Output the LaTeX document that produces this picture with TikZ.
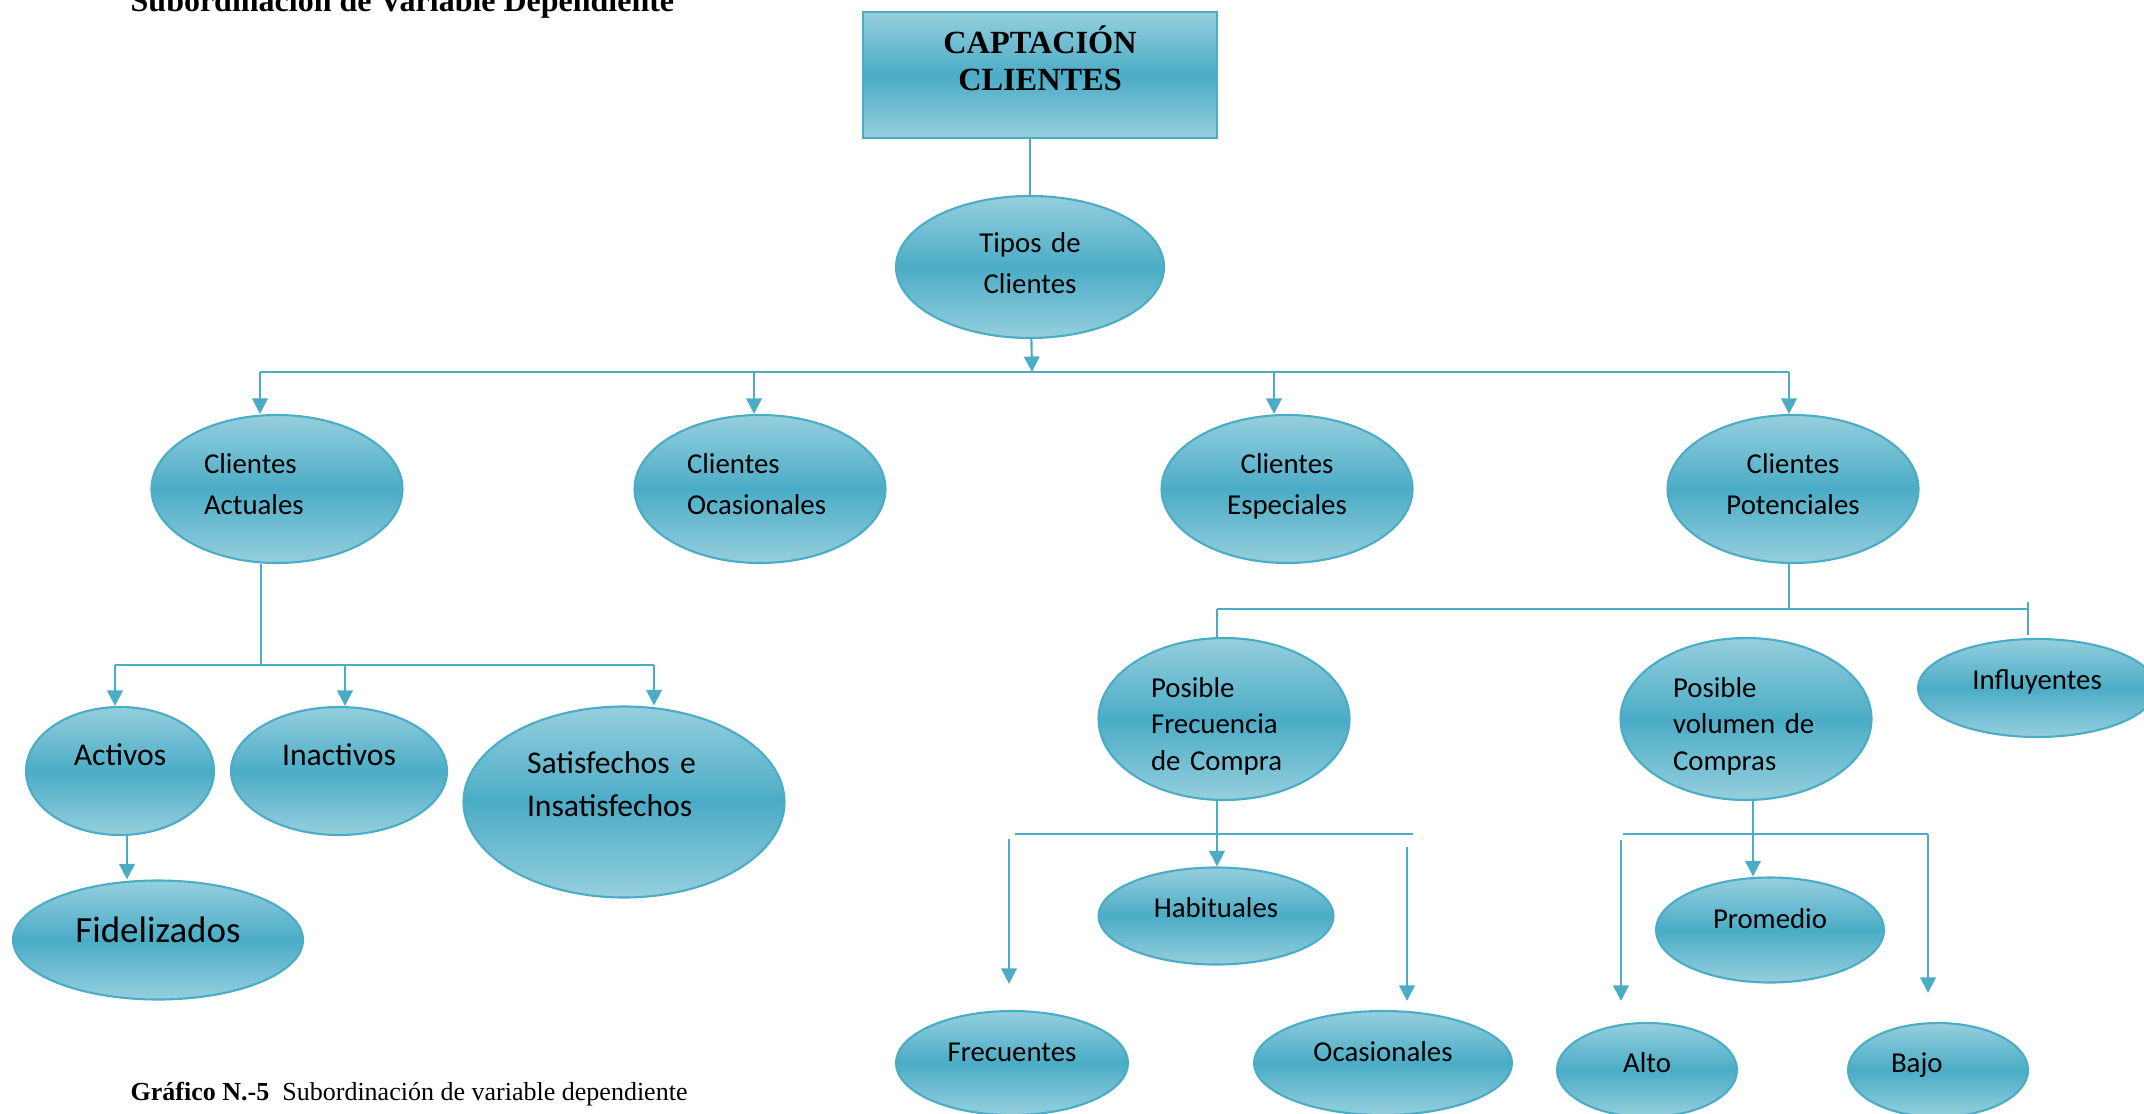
\documentclass[tikz,border=0pt]{standalone}
\usepackage{fontspec}
\setmainfont{Carlito}
\newfontfamily\timesf{Liberation Serif}
\usetikzlibrary{shapes.geometric,arrows.meta}
\definecolor{celeste}{HTML}{4BACC6}
\definecolor{celesteclaro}{HTML}{95CFDE}

\begin{document}
\begin{tikzpicture}[x=0.1mm,y=-0.1mm,
    every node/.style={font=\fontsize{8.2}{11.7}\selectfont},
    relleno/.style={draw=celeste, line width=0.6pt, top color=celesteclaro, bottom color=celesteclaro, middle color=celeste},
    elipse/.style={relleno, ellipse, inner sep=0pt},
    txt/.style={text height=6.5pt, text depth=#1},
    nivel/.style={elipse, minimum width=25.1mm, minimum height=14.8mm, text width=14.6mm, txt=15.6pt},
    posible/.style={elipse, minimum width=25.1mm, minimum height=16.2mm, text width=14.6mm, align=left, txt=19pt, font=\fontsize{8.2}{10.5}\selectfont},
    linea/.style={draw=celeste, line width=0.6pt},
    flecha/.style={linea, -{Triangle[width=4.4pt,length=4.4pt]}}]
                \useasboundingbox (0,0) rectangle (2144,1114);
                % titulos
                \node[anchor=base west, inner sep=0pt, font=\timesf\bfseries\fontsize{9.1}{11}\selectfont] (titulo) at (130,12) {Subordinación de Variable Dependiente};
                \node[anchor=base west, inner sep=0pt, font=\timesf\fontsize{7.4}{9}\selectfont] (pie) at (130,1100) {\textbf{Gráfico N.-5}\ \ Subordinación de variable dependiente};
                % raiz
                \node[relleno, rectangle, inner sep=0pt, minimum width=35.4mm, minimum height=12.6mm, text width=30mm, align=center, text height=6.5pt, text depth=18.9pt, font=\timesf\bfseries\fontsize{9.2}{10.6}\selectfont] (cap) at (1040,75) {CAPTACIÓN\\CLIENTES};
                \node[elipse, minimum width=26.8mm, minimum height=14.2mm, text width=18mm, align=center, txt=14.5pt, font=\fontsize{8.2}{11.4}\selectfont] (tipos) at (1030,267) {Tipos de\\Clientes};
                % tipos de clientes
                \node[nivel, align=left] (actuales) at (277,489) {Clientes\\Actuales};
                \node[nivel, align=left] (ocasion) at (760,489) {Clientes\\Ocasionales};
                \node[nivel, align=center] (especiales) at (1287,489) {Clientes\\Especiales};
                \node[nivel, align=center] (potenciales) at (1793,489) {Clientes\\Potenciales};
                % clientes actuales
                \node[elipse, minimum width=18.8mm, minimum height=12.8mm, txt=9.9pt, font=\fontsize{9}{11}\selectfont] (activos) at (120,771) {Activos};
                \node[elipse, minimum width=21.6mm, minimum height=12.8mm, txt=9.9pt, font=\fontsize{9}{11}\selectfont] (inactivos) at (339,771) {Inactivos};
                \node[elipse, minimum width=32.1mm, minimum height=19.1mm, text width=19.4mm, align=left, txt=23pt, font=\fontsize{9}{12.5}\selectfont] (satisf) at (624,802) {Satisfechos e\\Insatisfechos};
                \node[elipse, minimum width=29mm, minimum height=11.9mm, txt=4.8pt, font=\fontsize{10.5}{12}\selectfont] (fidel) at (158,940) {Fidelizados};
                % clientes potenciales
                \node[posible] (frecuencia) at (1224,719) {Posible\\Frecuencia\\de Compra};
                \node[posible] (volumen) at (1746,719) {Posible\\volumen de\\Compras};
                \node[elipse, minimum width=23.8mm, minimum height=9.8mm, txt=5.4pt] (influyentes) at (2037,688) {Influyentes};
                \node[elipse, minimum width=23.5mm, minimum height=9.7mm, txt=5.4pt] (habituales) at (1216,916) {Habituales};
                \node[elipse, minimum width=23.2mm, minimum height=10.4mm, txt=7.1pt] (frecuentes) at (1012,1063) {Frecuentes};
                \node[elipse, minimum width=25.8mm, minimum height=10.4mm, txt=7.1pt] (ocasionales) at (1383,1063) {Ocasionales};
                \node[elipse, minimum width=22.8mm, minimum height=10.5mm, txt=7.6pt] (promedio) at (1770,930) {Promedio};
                \node[elipse, minimum width=18mm, minimum height=9.4mm, txt=4.8pt] (alto) at (1647,1070) {Alto};
                \node[elipse, minimum width=18mm, minimum height=9.4mm, text width=9.4mm, align=left, txt=4.8pt] (bajo) at (1938,1070) {Bajo};
                % conectores
                \coordinate (busA) at (1032,372);
                \coordinate (b1) at (260,372);
                \coordinate (b2) at (754,372);
                \coordinate (b3) at (1274,372);
                \coordinate (b4) at (1789,372);
                \draw[linea] (tipos |- cap.south) -- (tipos.north);
                \draw[flecha] (tipos) -- (busA);
                \draw[linea] (b1) -- (b4);
                \foreach \b/\n in {b1/actuales, b2/ocasion, b3/especiales, b4/potenciales}
                    \draw[flecha] (\b) -- (\b |- \n.north);
                \coordinate (c0) at (261,665);
                \coordinate (c1) at (115,665);
                \coordinate (c2) at (345,665);
                \coordinate (c3) at (654,665);
                \draw[linea] (actuales.south -| c0) -- (c0);
                \draw[linea] (c1) -- (c3);
                \foreach \c/\n in {c1/activos, c2/inactivos, c3/satisf}
                    \draw[flecha] (\c) -- (\c |- \n.north);
                \draw[flecha] ([xshift=0.7mm]activos.south) -- ([xshift=0.7mm]activos.south |- fidel.north);
                \coordinate (e0) at (1789,609);
                \coordinate (e1) at (1217,609);
                \coordinate (e2) at (2028,609);
                \draw[linea] (potenciales.south -| e0) -- (e0);
                \draw[linea] (e1) -- (e2);
                \draw[linea] (e1) -- (e1 |- frecuencia.north);
                \draw[linea, shorten <=-0.7mm, shorten >=0.3mm] (e2) -- (e2 |- influyentes.north);
                \coordinate (f0) at (1217,834);
                \coordinate (f1) at (1015,834);
                \coordinate (f2) at (1413,834);
                \coordinate (fi) at (1009,839);
                \coordinate (fd) at (1407,847);
                \draw[linea] (f1) -- (f2);
                \draw[flecha] (frecuencia.south -| f0) -- (f0 |- habituales.north);
                \draw[flecha, shorten >=2.6mm] (fi) -- (fi |- frecuentes.north);
                \draw[flecha, shorten >=0.9mm] (fd) -- (fd |- ocasionales.north);
                \coordinate (g0) at (1753,834);
                \coordinate (g1) at (1623,834);
                \coordinate (g2) at (1928,834);
                \coordinate (gi) at (1621,840);
                \draw[linea] (g1) -- (g2);
                \draw[flecha] (volumen.south -| g0) -- (g0 |- promedio.north);
                \draw[flecha, shorten >=2.1mm] (gi) -- (gi |- alto.north);
                \draw[flecha, shorten >=2.9mm] (g2) -- (g2 |- bajo.north);
            \end{tikzpicture}
\end{document}
